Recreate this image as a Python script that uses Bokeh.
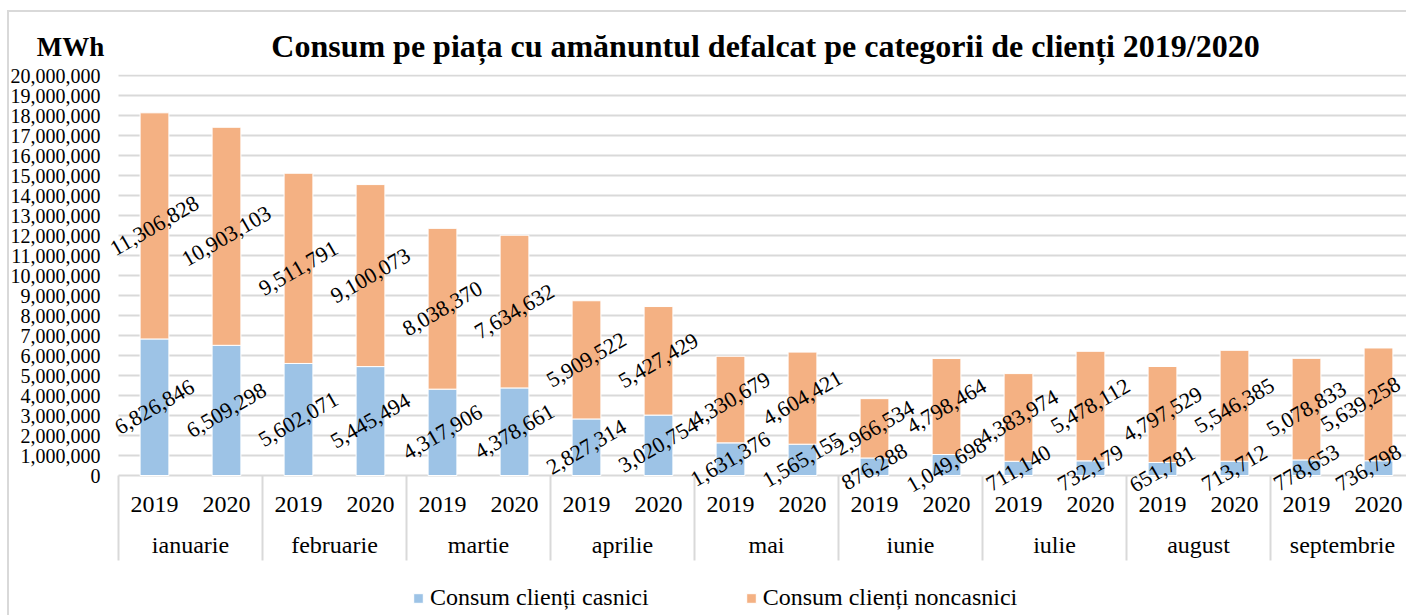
import math
from bokeh.plotting import figure
from bokeh.models import (Range1d, FixedTicker, NumeralTickFormatter,
                          Label, Legend, LegendItem, ColumnDataSource)
from bokeh.core.properties import value
from bokeh.embed import file_html
from bokeh.resources import INLINE

# ---------------- data ----------------
months = ["ianuarie", "februarie", "martie", "aprilie", "mai", "iunie",
          "iulie", "august", "septembrie"]
years = ["2019", "2020"]
casnici = [6826846, 6509298, 5602071, 5445494, 4317906, 4378661, 2827314, 3020754,
           1631376, 1565155, 876288, 1049698, 711140, 732179, 651781, 713712,
           778653, 736798]
noncasnici = [11306828, 10903103, 9511791, 9100073, 8038370, 7634632, 5909522,
              5427429, 4330679, 4604421, 2966534, 4798464, 4383974, 5478112,
              4797529, 5546385, 5078833, 5639258]
y_ticks = list(range(0, 20_000_001, 1_000_000))
series_names = ["Consum clienți casnici", "Consum clienți noncasnici"]
title_text = "Consum pe piața cu amănuntul defalcat pe categorii de clienți 2019/2020"
unit_text = "MWh"

# ---------------- style ----------------
colors = ["#9dc3e6", "#f4b183"]
FONT = "Liberation Serif"
GRID = "#d9d9d9"

n = len(months) * len(years)
xs = [i + 0.5 for i in range(n)]                       # one slot per (month, year)
x_year = [years[i % len(years)] for i in range(n)]
x_month = [len(years) * j + len(years) / 2 for j in range(len(months))]

src = ColumnDataSource(dict(x=xs, casnici=casnici, noncasnici=noncasnici))

W, H = 1406, 615
PLOT_LEFT, FRAME_LEFT, TOP, SLOT = 118, 104, 74, 72
x_end = (W - PLOT_LEFT) / SLOT
p = figure(width=W, height=H, title_location=None,
           x_range=Range1d(-(PLOT_LEFT - FRAME_LEFT) / SLOT, x_end),
           y_range=Range1d(-7.0e6, 20.05e6),
           output_backend="svg", toolbar_location=None, x_axis_location=None,
           min_border_left=FRAME_LEFT, min_border_right=0, min_border_top=TOP,
           min_border_bottom=0)
p.styles = {"box-shadow": "inset 7px 10px 0 0 white, inset 9px 12px 0 0 #d9d9d9"}
p.outline_line_color = None
p.background_fill_color = "white"
p.border_fill_alpha = 0
p.xgrid.visible = False
p.ygrid.visible = False

p.yaxis.ticker = FixedTicker(ticks=y_ticks)
p.yaxis.formatter = NumeralTickFormatter(format="0,0")
p.yaxis.axis_line_color = None
p.yaxis.major_tick_line_color = None
p.yaxis.minor_tick_line_color = None
p.yaxis.major_tick_out = 0
p.yaxis.major_label_standoff = 4
p.yaxis.major_label_text_font = FONT
p.yaxis.major_label_text_font_size = "20px"
p.yaxis.major_label_text_color = "black"

# horizontal gridlines (start at the category axis, as in the original)
p.segment(x0=[0] * len(y_ticks), y0=y_ticks, x1=[x_end] * len(y_ticks), y1=y_ticks,
          line_color=GRID, line_width=2)

# category separators
sep_x = list(range(0, n + 1, len(years)))
p.segment(x0=sep_x, y0=[0] * len(sep_x), x1=sep_x, y1=[-4.25e6] * len(sep_x),
          line_color=GRID, line_width=2)

rs = p.vbar_stack(["casnici", "noncasnici"], x="x", width=0.4, color=colors,
                  line_color="white", line_width=1, source=src)

# data labels (last pair nudged left to stay inside the chart, as in the original)
lab_x = xs + xs
lab_y = [c / 2 for c in casnici] + [c + v / 2 for c, v in zip(casnici, noncasnici)]
lab_t = [f"{v:,}" for v in casnici] + [f"{v:,}" for v in noncasnici]
lab_dx = [0] * (n - 1) + [-10] + [0] * (n - 1) + [-18]
p.text(x=lab_x, y=lab_y, text=lab_t, x_offset=lab_dx, angle=math.pi / 6,
       text_align="center", text_baseline="middle", text_font=value(FONT),
       text_font_size="22px", text_color="black")

# category axis labels
p.text(x=xs, y=[-1.45e6] * n, text=x_year,
       text_align="center", text_baseline="middle", text_font=value(FONT),
       text_font_size="24px", text_color="black")
p.text(x=x_month, y=[-3.45e6] * len(months), text=months,
       text_align="center", text_baseline="middle", text_font=value(FONT),
       text_font_size="24px", text_color="black")

# title and unit label (in the top panel, so they are not clipped to the frame)
p.add_layout(Label(x=661, y=29, x_units="screen", y_units="screen", text=title_text,
                   text_align="center", text_baseline="middle", text_font=FONT,
                   text_font_style="bold", text_font_size="32px", text_color="black"),
             "above")
p.add_layout(Label(x=-34, y=-8, x_units="screen", y_units="screen", text=unit_text,
                   text_align="center", text_baseline="middle", text_font=FONT,
                   text_font_style="bold", text_font_size="27px", text_color="black"),
             "above")

legend = Legend(items=[LegendItem(label=series_names[0], renderers=[rs[0]]),
                       LegendItem(label=series_names[1], renderers=[rs[1]])],
                orientation="horizontal", location=(308, 4),
                glyph_width=12, glyph_height=12, label_standoff=6, spacing=96,
                padding=0, margin=0, border_line_color=None, background_fill_alpha=0,
                label_text_font=FONT, label_text_font_size="24px", label_text_color="black")
p.add_layout(legend)

open("out.html", "w").write(file_html(p, INLINE))
